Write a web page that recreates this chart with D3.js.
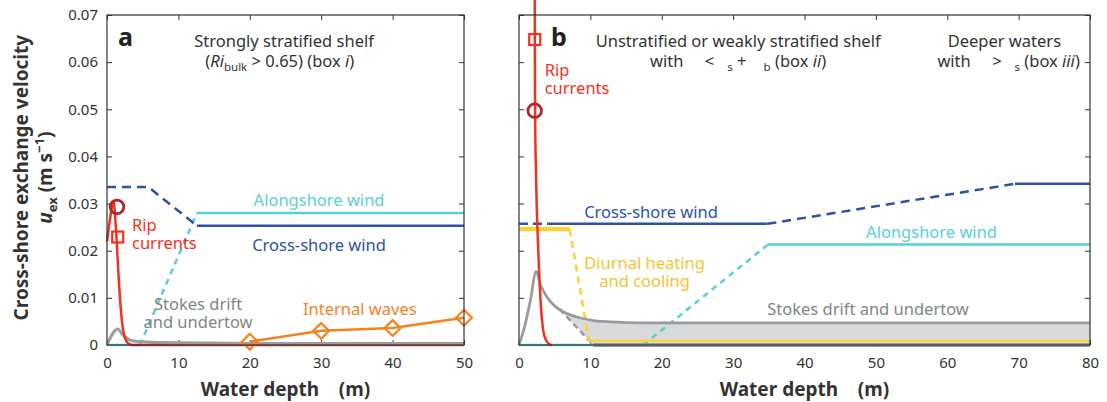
<!DOCTYPE html>
<html>
<head>
<meta charset="utf-8">
<script src="https://cdn.jsdelivr.net/npm/d3@7"></script>
<style>
    body { margin: 0; background: #fff; }
    text { font-family: "Noto Sans", sans-serif; }
    .pre { white-space: pre; }
</style>
</head>
<body>
<svg id="chart" width="1107" height="402"></svg>
<script>
// ticks
let depthTicksA = [0, 10, 20, 30, 40, 50];
let depthTicksB = [0, 10, 20, 30, 40, 50, 60, 70, 80];
let velTicks = [0, 0.01, 0.02, 0.03, 0.04, 0.05, 0.06, 0.07];

// panel a: strongly stratified shelf, [depth m, u_ex m/s]
let aCrossDashed = [[0, 0.0335], [5.8, 0.0335], [12.6, 0.0253]];
let aCrossSolid = [[12.6, 0.0253], [50, 0.0253]];
let aAlongLow = [[0, 0], [4.6, 0]];
let aAlongDashed = [[4.6, 0], [12.6, 0.028]];
let aAlongSolid = [[12.6, 0.028], [50, 0.028]];
let aRip = [[0, 0.022], [0.45, 0.027], [0.9, 0.0305], [1.2, 0.026], [1.55, 0.0166], [1.8, 0.0102],
    [2.0, 0.0065], [2.25, 0.0032], [2.6, 0.0012], [3.0, 0.0003], [3.5, 0], [50, 0]];
let aStokes = [[0, 0], [1.5, 0.0034], [2.2, 0.0022], [3, 0.0012], [4, 0.0008], [6, 0.0006],
    [10, 0.0004], [20, 0.0003], [50, 0.0003]];
let aWaveDepth = [20, 30, 40, 50];
let aWaveVel = [0.0007, 0.003, 0.0036, 0.0058];
let aRipSquare = [1.5, 0.0229];
let aRipCircle = [1.4, 0.0293];

// panel b: unstratified / weakly stratified shelf and deeper waters
let bCrossDashedStart = [[0, 0.0257], [4.1, 0.0257]];
let bCrossSolid = [[4.1, 0.0257], [34.8, 0.0257]];
let bCrossDashed = [[34.8, 0.0257], [69.5, 0.0342]];
let bCrossSolidDeep = [[69.5, 0.0342], [80, 0.0342]];
let bAlongLow = [[0, 0], [10.4, 0]];
let bAlongDashed = [[17.4, 0], [34.8, 0.0212]];
let bAlongSolid = [[34.8, 0.0213], [80, 0.0213]];
let bDiurnalSolid = [[0, 0.0246], [7.1, 0.0246]];
let bDiurnalDashed = [[7.1, 0.0246], [9.8, 0.0009]];
let bDiurnalLow = [[9.8, 0.0009], [80, 0.0009]];
let bStokes = [[0, 0], [0.8, 0.004], [1.6, 0.0095], [2.4, 0.0156], [3, 0.0128], [4, 0.0100],
    [5, 0.0083], [6, 0.0072], [8, 0.0060], [10, 0.0053], [13, 0.0049], [17, 0.0047],
    [25, 0.0047], [40, 0.0047], [80, 0.0047]];
let bStokesLowDashed = [[5.7, 0.0076], [10.4, 0]];
let bStokesLow = [[10.4, 0], [80, 0]];
let bRip = [[2.2, 0.075], [2.25, 0.05], [2.4, 0.035], [2.7, 0.02], [3.0, 0.01], [3.4, 0.003],
    [3.8, 0.001], [4.2, 0.0002], [4.6, 0]];
let bRipSquare = [2.2, 0.0648];
let bRipCircle = [2.2, 0.0497];

let colors = {
    cross: "#2c52a3",
    along: "#5ccfd5",
    rip: "#f0321f",
    ripDark: "#b3252b",
    wave: "#f6821f",
    stokes: "#9b9c9e",
    stokesText: "#7e8786",
    diurnal: "#f9d33a",
    diurnalText: "#f4c530",
    fill: "#d9dadc",
    axis: "#333"
};

let svg = d3.select("#chart");

let y = d3.scaleLinear().domain([0, 0.07]).range([345, 15]);
let xA = d3.scaleLinear().domain([0, 50]).range([107, 464]);
let xB = d3.scaleLinear().domain([0, 80]).range([519, 1090]);

function frame(xs, ticks, labelY) {
    let g = svg.append("g").attr("font-size", 15).attr("fill", colors.axis);
    g.append("g").attr("transform", "translate(0," + y(0) + ")")
        .call(d3.axisBottom(xs).tickValues(ticks).tickSize(-5).tickPadding(12).tickFormat(d3.format("d")));
    g.append("g").attr("transform", "translate(0," + y(0.07) + ")")
        .call(d3.axisTop(xs).tickValues(ticks).tickSize(-5).tickFormat(""));
    g.append("g").attr("transform", "translate(" + xs.range()[0] + ",0)")
        .call(d3.axisLeft(y).tickValues(velTicks).tickSize(-5).tickPadding(9)
            .tickFormat(labelY ? (d => d === 0 ? "0" : d3.format(".2f")(d)) : ""));
    g.append("g").attr("transform", "translate(" + xs.range()[1] + ",0)")
        .call(d3.axisRight(y).tickValues(velTicks).tickSize(-5).tickFormat(""));
    g.selectAll(".domain").remove();
    g.selectAll(".tick line").attr("stroke", colors.axis);
    g.selectAll(".tick text").attr("fill", colors.axis).attr("font-family", "Noto Sans").attr("font-size", 15);
    return g;
}

function border(xs) {
    svg.append("rect")
        .attr("x", xs.range()[0]).attr("y", y(0.07))
        .attr("width", xs.range()[1] - xs.range()[0]).attr("height", y(0) - y(0.07))
        .attr("fill", "none").attr("stroke", colors.axis).attr("stroke-width", 1.2);
}

function drawLine(g, xs, pts, color, width, dash, curve) {
    g.append("path").datum(pts)
        .attr("d", d3.line().x(d => xs(d[0])).y(d => y(d[1])).curve(curve || d3.curveLinear))
        .attr("fill", "none")
        .attr("stroke", color)
        .attr("stroke-width", width)
        .attr("stroke-dasharray", dash || null)
        .attr("stroke-linejoin", "round");
}

function label(g, xs, pos, lines, color, anchor) {
    lines.forEach(function (s, i) {
        g.append("text")
            .attr("x", xs(pos[0]))
            .attr("y", y(pos[1]) + i * 18)
            .attr("text-anchor", anchor || "middle")
            .attr("fill", color)
            .attr("font-size", 16.5)
            .text(s);
    });
}

function square(g, xs, p, color) {
    g.append("rect")
        .attr("x", xs(p[0]) - 5.5).attr("y", y(p[1]) - 5.5)
        .attr("width", 11).attr("height", 11)
        .attr("fill", "none").attr("stroke", color).attr("stroke-width", 2.2);
}

function circle(g, xs, p, color) {
    g.append("circle")
        .attr("cx", xs(p[0])).attr("cy", y(p[1])).attr("r", 6.8)
        .attr("fill", "none").attr("stroke", color).attr("stroke-width", 2.8);
}

// ---------- panel a ----------
frame(xA, depthTicksA, true);
let gA = svg.append("g");

drawLine(gA, xA, aAlongLow, colors.along, 2.5);
drawLine(gA, xA, aAlongDashed, colors.along, 2.5, "6,5");
drawLine(gA, xA, aAlongSolid, colors.along, 2.5);
drawLine(gA, xA, aCrossDashed, colors.cross, 2.5, "9,6");
drawLine(gA, xA, aCrossSolid, colors.cross, 2.5);
drawLine(gA, xA, aStokes, colors.stokes, 3, null, d3.curveMonotoneX);
drawLine(gA, xA, aRip, colors.rip, 2.5, null, d3.curveMonotoneX);
drawLine(gA, xA, aStokes.filter(d => d[0] > 4), colors.stokes, 3, null, d3.curveMonotoneX);

let waves = aWaveDepth.map((d, i) => [d, aWaveVel[i]]);
drawLine(gA, xA, waves, colors.wave, 2.5);
gA.selectAll(".diamond").data(waves).enter().append("path")
    .attr("class", "diamond")
    .attr("d", d3.symbol().type(d3.symbolDiamond2).size(160))
    .attr("transform", d => "translate(" + xA(d[0]) + "," + y(d[1]) + ")")
    .attr("fill", "none")
    .attr("stroke", colors.wave).attr("stroke-width", 2.2);

square(gA, xA, aRipSquare, colors.rip);
circle(gA, xA, aRipCircle, colors.ripDark);

border(xA);

gA.append("text").attr("x", xA(1.55)).attr("y", y(0.0634))
    .attr("font-size", 25).attr("font-weight", "bold").attr("fill", "#222").text("a");
label(gA, xA, [24.8, 0.0632], ["Strongly stratified shelf"], "#333");
let riA = gA.append("text").attr("x", xA(24.2)).attr("y", y(0.0632) + 20)
    .attr("text-anchor", "middle").attr("font-size", 16.5).attr("fill", "#333");
riA.append("tspan").text("(");
riA.append("tspan").attr("font-style", "italic").text("Ri");
riA.append("tspan").attr("font-size", 11.5).attr("dy", 4).text("bulk");
riA.append("tspan").attr("dy", -4).text(" > 0.65) (box ");
riA.append("tspan").attr("font-style", "italic").text("i");
riA.append("tspan").text(")");

label(gA, xA, [29.7, 0.0295], ["Alongshore wind"], colors.along);
label(gA, xA, [29.7, 0.0199], ["Cross-shore wind"], colors.cross);
label(gA, xA, [3.5, 0.0242], ["Rip", "currents"], colors.rip, "start");
label(gA, xA, [12.75, 0.0074], ["Stokes drift", "and undertow"], colors.stokesText);
label(gA, xA, [35.4, 0.0064], ["Internal waves"], colors.wave);

// ---------- panel b ----------
frame(xB, depthTicksB, false);
let gB = svg.append("g");

let fillPts = [[5.7, 0.0076]].concat(bStokes.filter(d => d[0] >= 5.7), bStokesLow.slice().reverse());
gB.append("path").datum(fillPts)
    .attr("d", d3.line().x(d => xB(d[0])).y(d => y(d[1])))
    .attr("fill", colors.fill).attr("stroke", "none");

drawLine(gB, xB, bAlongLow, colors.along, 2.5);
drawLine(gB, xB, bAlongDashed, colors.along, 2.5, "6,5");
drawLine(gB, xB, bAlongSolid, colors.along, 2.5);
drawLine(gB, xB, bStokesLow, colors.stokes, 4);
drawLine(gB, xB, bStokesLowDashed, colors.stokes, 2.5, "6,4");
drawLine(gB, xB, bDiurnalSolid, colors.diurnal, 4.5);
drawLine(gB, xB, bDiurnalDashed, colors.diurnal, 2.5, "7,5");
drawLine(gB, xB, bDiurnalLow, colors.diurnal, 2.5);
drawLine(gB, xB, bCrossDashedStart, colors.cross, 2.5, "9,5");
drawLine(gB, xB, bCrossSolid, colors.cross, 2.5);
drawLine(gB, xB, bCrossDashed, colors.cross, 2.5, "9,6");
drawLine(gB, xB, bCrossSolidDeep, colors.cross, 2.5);
drawLine(gB, xB, bStokes, colors.stokes, 2.8, null, d3.curveMonotoneX);
drawLine(gB, xB, bRip, colors.rip, 2.5, null, d3.curveMonotoneX);

square(gB, xB, bRipSquare, colors.rip);
circle(gB, xB, bRipCircle, colors.ripDark);

border(xB);

gB.append("text").attr("x", xB(4.5)).attr("y", y(0.0634))
    .attr("font-size", 25).attr("font-weight", "bold").attr("fill", "#222").text("b");
label(gB, xB, [30.7, 0.0632], ["Unstratified or weakly stratified shelf"], "#333");
let withB = gB.append("text").attr("class", "pre").attr("x", xB(30.7)).attr("y", y(0.0632) + 20)
    .attr("text-anchor", "middle").attr("font-size", 16.5).attr("fill", "#333");
withB.append("tspan").text("with     <   ");
withB.append("tspan").attr("font-size", 11.5).attr("dy", 4).text("s");
withB.append("tspan").attr("dy", -4).text(" +    ");
withB.append("tspan").attr("font-size", 11.5).attr("dy", 4).text("b");
withB.append("tspan").attr("dy", -4).text(" (box ");
withB.append("tspan").attr("font-style", "italic").text("ii");
withB.append("tspan").text(")");

label(gB, xB, [68, 0.0632], ["Deeper waters"], "#333");
let withC = gB.append("text").attr("class", "pre").attr("x", xB(68.6)).attr("y", y(0.0632) + 20)
    .attr("text-anchor", "middle").attr("font-size", 16.5).attr("fill", "#333");
withC.append("tspan").text("with     >   ");
withC.append("tspan").attr("font-size", 11.5).attr("dy", 4).text("s");
withC.append("tspan").attr("dy", -4).text(" (box ");
withC.append("tspan").attr("font-style", "italic").text("iii");
withC.append("tspan").text(")");

label(gB, xB, [3.6, 0.0571], ["Rip", "currents"], colors.rip, "start");
label(gB, xB, [18.5, 0.0270], ["Cross-shore wind"], colors.cross);
label(gB, xB, [57.8, 0.0227], ["Alongshore wind"], colors.along);
label(gB, xB, [17.6, 0.0161], ["Diurnal heating", "and cooling"], colors.diurnalText);
label(gB, xB, [48.9, 0.0064], ["Stokes drift and undertow"], colors.stokesText);

// ---------- axis titles ----------
let yTitle = svg.append("g").attr("transform", "translate(28," + y(0.0355) + ") rotate(-90)")
    .attr("font-weight", "bold").attr("font-size", 19).attr("fill", "#333").attr("text-anchor", "middle");
yTitle.append("text").text("Cross-shore exchange velocity");
let uex = yTitle.append("text").attr("y", 24);
uex.append("tspan").attr("font-style", "italic").text("u");
uex.append("tspan").attr("font-size", 13).attr("dy", 5).text("ex");
uex.append("tspan").attr("dy", -5).text(" (m s");
uex.append("tspan").attr("font-size", 13).attr("dy", -8).text("\u22121");
uex.append("tspan").attr("dy", 8).text(")");

[xA, xB].forEach(function (xs) {
    svg.append("text").attr("class", "pre")
        .attr("x", (xs.range()[0] + xs.range()[1]) / 2).attr("y", 396)
        .attr("text-anchor", "middle").attr("font-weight", "bold").attr("font-size", 19).attr("fill", "#333")
        .text("Water depth    (m)");
});
</script>
</body>
</html>
